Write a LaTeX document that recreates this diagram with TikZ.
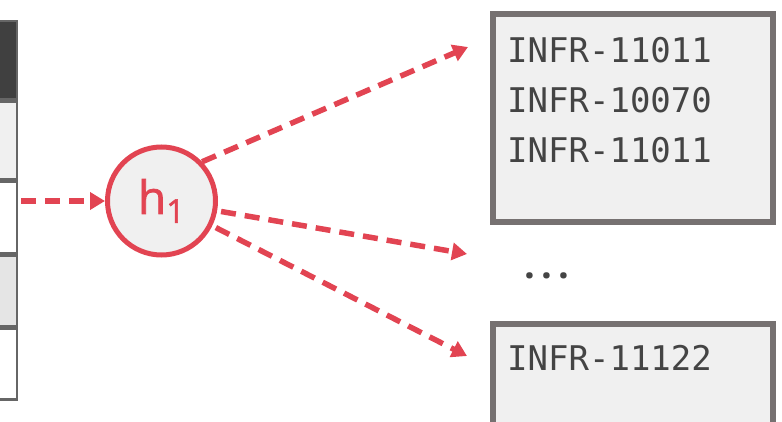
\documentclass[tikz,border=0pt]{standalone}
\usepackage{fontspec}
\setsansfont{Open Sans}
\setmonofont{DejaVu Sans Mono}
\usetikzlibrary{
    positioning,
    arrows.meta
}

\definecolor{hashred}{HTML}{E24452}
\definecolor{boxgray}{HTML}{767171}
\definecolor{rowgray}{HTML}{666666}
\definecolor{textgray}{HTML}{444444}

\begin{document}
\begin{tikzpicture}[
    x=1pt, y=-1pt,
    row/.style={
        rectangle,
        draw=rowgray,
        line width=2.5pt,
        minimum width=80pt,
        anchor=north east,
        inner sep=0pt,
    },
    hashfn/.style={
        circle,
        draw=hashred,
        line width=5pt,
        fill=black!6,
        minimum size=108pt,
        inner sep=0pt,
        text=hashred,
        font=\sffamily\fontsize{46}{50}\selectfont,
    },
    bucket/.style={
        rectangle,
        draw=boxgray,
        line width=6pt,
        fill=black!6,
        minimum width=280pt,
        anchor=north west,
        inner sep=0pt,
    },
    entry/.style={
        anchor=base west,
        inner sep=0pt,
        text=textgray,
        font=\ttfamily\fontsize{34}{40}\selectfont,
    },
    hasharrow/.style={
        draw=hashred,
        line width=5.5pt,
        dash pattern=on 15pt off 9pt,
        -{Triangle[length=15pt,width=17pt]},
    },
]
    \useasboundingbox (0,0) rectangle (782,422);

    % table on the left
    \node[row, fill=black!75, minimum height=78pt] (hdr) at (18,20) {};
    \node[row, fill=black!6,  minimum height=78pt] (r1) at (hdr.south east) {};
    \node[row, fill=white,    minimum height=71pt] (r2) at (r1.south east) {};
    \node[row, fill=black!10, minimum height=70pt] (r3) at (r2.south east) {};
    \node[row, fill=white,    minimum height=71pt] (r4) at (r3.south east) {};

    % hash function
    \node[hashfn] (h) at (161.5,201)
        {\addfontfeature{FakeBold=1.6}h\raisebox{-9pt}{\fontsize{33}{33}\selectfont\addfontfeature{FakeBold=1.6}1}};

    % buckets
    \node[bucket, minimum height=208pt] (b1) at (490,11) {};
    \node[entry] (e1) at (507,63)  {INFR-11011};
    \node[entry] (e2) at (507,113) {INFR-10070};
    \node[entry] (e3) at (507,163) {INFR-11011};

    \node[text=textgray, anchor=base, inner sep=0pt,
          font=\sffamily\bfseries\fontsize{38}{40}\selectfont\addfontfeature{LetterSpace=16}]
        (dots) at (547,278) {...};

    \node[bucket, minimum height=130pt] (b2) at (490,320.5) {};
    \node[entry] (e4) at (507,370) {INFR-11122};

    % arrows
    \coordinate (t1) at (468,47);
    \coordinate (t2) at (467,254);
    \coordinate (t3) at (467,356);

    \draw[hasharrow, shorten <=3pt] (r2.east |- h.west) -- (h.west);
    \draw[hasharrow] (h.44) -- (t1);
    \draw[hasharrow, shorten <=4pt] (h.-10.5) -- (t2);
    \draw[hasharrow, shorten <=4pt] (h.-26.4) -- (t3);

\end{tikzpicture}
\end{document}
